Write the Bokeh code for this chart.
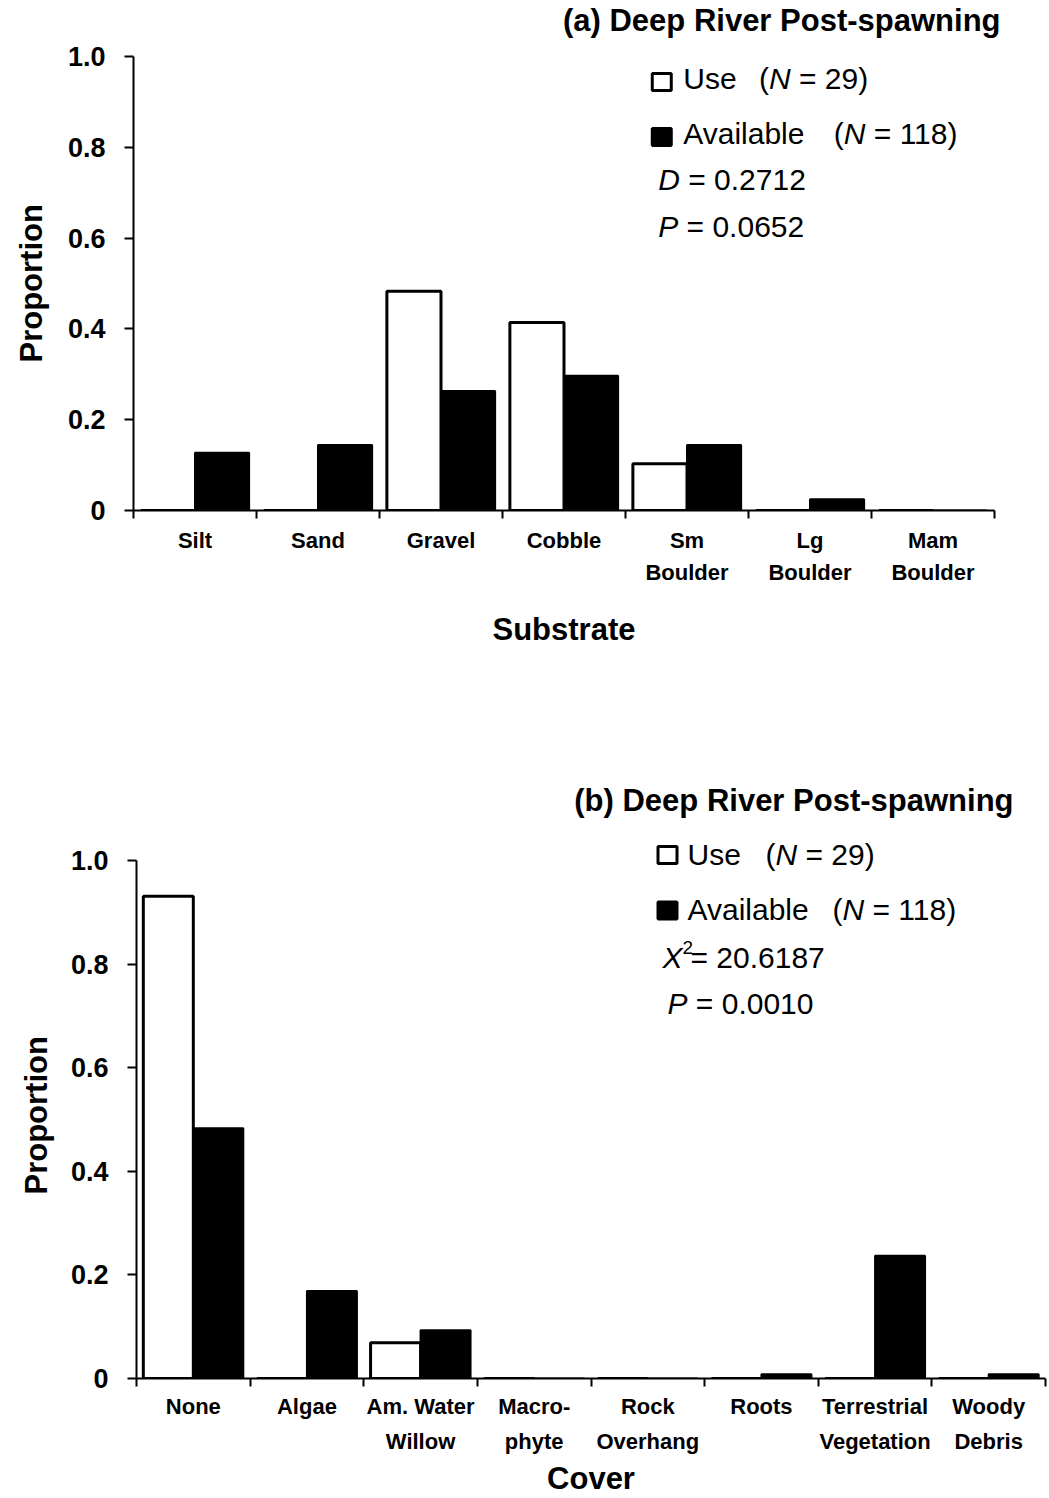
from bokeh.plotting import figure
from bokeh.models import Range1d, FixedTicker, Label, PrintfTickFormatter, ColumnDataSource, Title
from bokeh.layouts import column
from bokeh.embed import file_html
from bokeh.resources import INLINE

# ---------------- data ----------------
substrate_labels = ["Silt", "Sand", "Gravel", "Cobble", "Sm\nBoulder", "Lg\nBoulder", "Mam\nBoulder"]
substrate_use = [0.0, 0.0, 0.483, 0.414, 0.103, 0.0, 0.0]
substrate_avail = [0.127, 0.144, 0.263, 0.297, 0.144, 0.025, 0.0]

cover_labels = ["None", "Algae", "Am. Water\nWillow", "Macro-\nphyte", "Rock\nOverhang", "Roots",
                "Terrestrial\nVegetation", "Woody\nDebris"]
cover_use = [0.931, 0.0, 0.069, 0.0, 0.0, 0.0, 0.0, 0.0]
cover_avail = [0.483, 0.169, 0.093, 0.0, 0.0, 0.008, 0.237, 0.008]

y_ticks = [0, 0.2, 0.4, 0.6, 0.8, 1.0]

FONT = "Liberation Sans"
W = 1049
H = 749
NB = "\u00a0"


def make_panel(labels, use, avail, xlabel, left, right, frame_top, one_px, bottom,
               title, title_right, legend,
               lab_standoff, lab_lh, axlab_standoff, ylab_start, ylab_standoff):
    n = len(labels)
    y_end = (bottom - frame_top) / (bottom - one_px)
    p = figure(width=W, height=H, output_backend="svg", toolbar_location=None,
               x_range=Range1d(0, n), y_range=Range1d(0, y_end),
               min_border_left=left, min_border_right=W - right,
               min_border_top=frame_top, min_border_bottom=H - bottom,
               frame_align=False)
    p.outline_line_color = None
    p.xgrid.visible = False
    p.ygrid.visible = False
    p.background_fill_color = "white"
    p.border_fill_color = "white"

    idx = list(range(n))
    src = ColumnDataSource(dict(xu=[i + 0.28 for i in idx], xa=[i + 0.72 for i in idx],
                                use=use, avail=avail))
    p.vbar(x="xu", top="use", width=0.44, source=src, fill_color="white",
           line_color="black", line_width=3)
    p.vbar(x="xa", top="avail", width=0.44, source=src, fill_color="black",
           line_color="black", line_width=2)

    # x axis: labels centered, ticks at category boundaries
    xa = p.xaxis[0]
    xa.ticker = FixedTicker(ticks=[i + 0.5 for i in idx], minor_ticks=list(range(n + 1)))
    xa.major_label_overrides = {i + 0.5: labels[i] for i in idx}
    xa.major_tick_out = 0
    xa.major_tick_in = 0
    xa.minor_tick_out = 8
    xa.minor_tick_in = 0
    xa.minor_tick_line_width = 2
    xa.minor_tick_line_color = "black"
    xa.axis_line_width = 2
    xa.axis_line_color = "black"
    xa.major_label_text_font = FONT
    xa.major_label_text_font_style = "bold"
    xa.major_label_text_font_size = "22px"
    xa.major_label_text_color = "black"
    xa.major_label_text_line_height = lab_lh
    xa.major_label_standoff = lab_standoff
    xa.axis_label = xlabel
    xa.axis_label_text_font = FONT
    xa.axis_label_text_font_style = "bold"
    xa.axis_label_text_font_size = "31px"
    xa.axis_label_text_color = "black"
    xa.axis_label_standoff = axlab_standoff

    ya = p.yaxis[0]
    ya.bounds = (0, 1.0)
    ya.ticker = FixedTicker(ticks=y_ticks, minor_ticks=[])
    ya.formatter = PrintfTickFormatter(format="%.1f")
    ya.major_label_overrides = {0: "0"}
    ya.major_tick_out = 9
    ya.major_tick_in = 0
    ya.major_tick_line_width = 2
    ya.major_tick_line_color = "black"
    ya.minor_tick_out = 0
    ya.minor_tick_in = 0
    ya.axis_line_width = 2
    ya.axis_line_color = "black"
    ya.major_label_text_font = FONT
    ya.major_label_text_font_style = "bold"
    ya.major_label_text_font_size = "27px"
    ya.major_label_text_color = "black"
    ya.major_label_standoff = 19

    # y axis title (side title so it can be centred on the 0-1 axis line)
    p.add_layout(Title(text="Proportion", align="left", offset=bottom - ylab_start,
                       vertical_align="top", standoff=ylab_standoff, text_font=FONT,
                       text_font_style="bold", text_font_size="31px", text_color="black"), "left")

    # panel title
    p.add_layout(Title(text=title, align="right", offset=right - title_right, standoff=0,
                       text_font=FONT, text_font_style="bold",
                       text_font_size="31px", text_color="black"), "above")

    def dx(px):
        return (px - left) / (right - left) * n

    def dy(py):
        return (bottom - py) / (bottom - one_px) * 1.0

    for (sx, sy, fill) in legend["squares"]:
        p.rect(x=[dx(sx)], y=[dy(sy)], width=19, height=17, width_units="screen",
               height_units="screen", fill_color=fill, line_color="black", line_width=3)
    for (tx, ty, txt, style, size) in legend["texts"]:
        p.add_layout(Label(x=dx(tx), y=dy(ty), text=txt, text_align="left",
                           text_baseline="middle", text_font=FONT, text_font_style=style,
                           text_font_size=size, text_color="black"))
    return p


fs = 30
S = "30px"
legend_a = {
    "squares": [(660.5, 81.5, "white"), (660.5, 136.5, "black")],
    "texts": [
        (682, 78, "Use", "normal", S),
        (758, 78, "(", "normal", S),
        (758 + 0.333 * fs, 78, "N", "italic", S),
        (758 + 1.055 * fs, 78, NB + "=" + NB + "29)", "normal", S),
        (682, 133, "Available", "normal", S),
        (833, 133, "(", "normal", S),
        (833 + 0.333 * fs, 133, "N", "italic", S),
        (833 + 1.055 * fs, 133, NB + "=" + NB + "118)", "normal", S),
        (657, 179, "D", "italic", S),
        (657 + 0.722 * fs, 179, NB + "=" + NB + "0.2712", "normal", S),
        (657, 226, "P", "italic", S),
        (657 + 0.667 * fs, 226, NB + "=" + NB + "0.0652", "normal", S),
    ],
}

off = 749
legend_b = {
    "squares": [(667, 855 - off, "white"), (667, 911 - off, "black")],
    "texts": [
        (687, 854 - off, "Use", "normal", S),
        (765, 854 - off, "(", "normal", S),
        (765 + 0.333 * fs, 854 - off, "N", "italic", S),
        (765 + 1.055 * fs, 854 - off, NB + "=" + NB + "29)", "normal", S),
        (687, 910 - off, "Available", "normal", S),
        (832, 910 - off, "(", "normal", S),
        (832 + 0.333 * fs, 910 - off, "N", "italic", S),
        (832 + 1.055 * fs, 910 - off, NB + "=" + NB + "118)", "normal", S),
        (662, 959 - off, "X", "italic", S),
        (682, 948 - off, "2", "normal", "19px"),
        (690, 959 - off, "=" + NB + "20.6187", "normal", S),
        (667, 1005 - off, "P", "italic", S),
        (667 + 0.667 * fs, 1005 - off, NB + "=" + NB + "0.0010", "normal", S),
    ],
}

pa = make_panel(substrate_labels, substrate_use, substrate_avail, "Substrate",
                131, 994, 37, 56, 510,
                "(a) Deep River Post-spawning", 1000, legend_a,
                9, 1.3, 24, 362, 27)
pb = make_panel(cover_labels, cover_use, cover_avail, "Cover",
                136, 1045, 68, 111.5, 635,
                "(b) Deep River Post-spawning", 1013, legend_b,
                7, 1.4, 4, 1200 - off, 24)

layout = column(pa, pb, spacing=0)
open("out.html", "w").write(file_html(layout, INLINE))
